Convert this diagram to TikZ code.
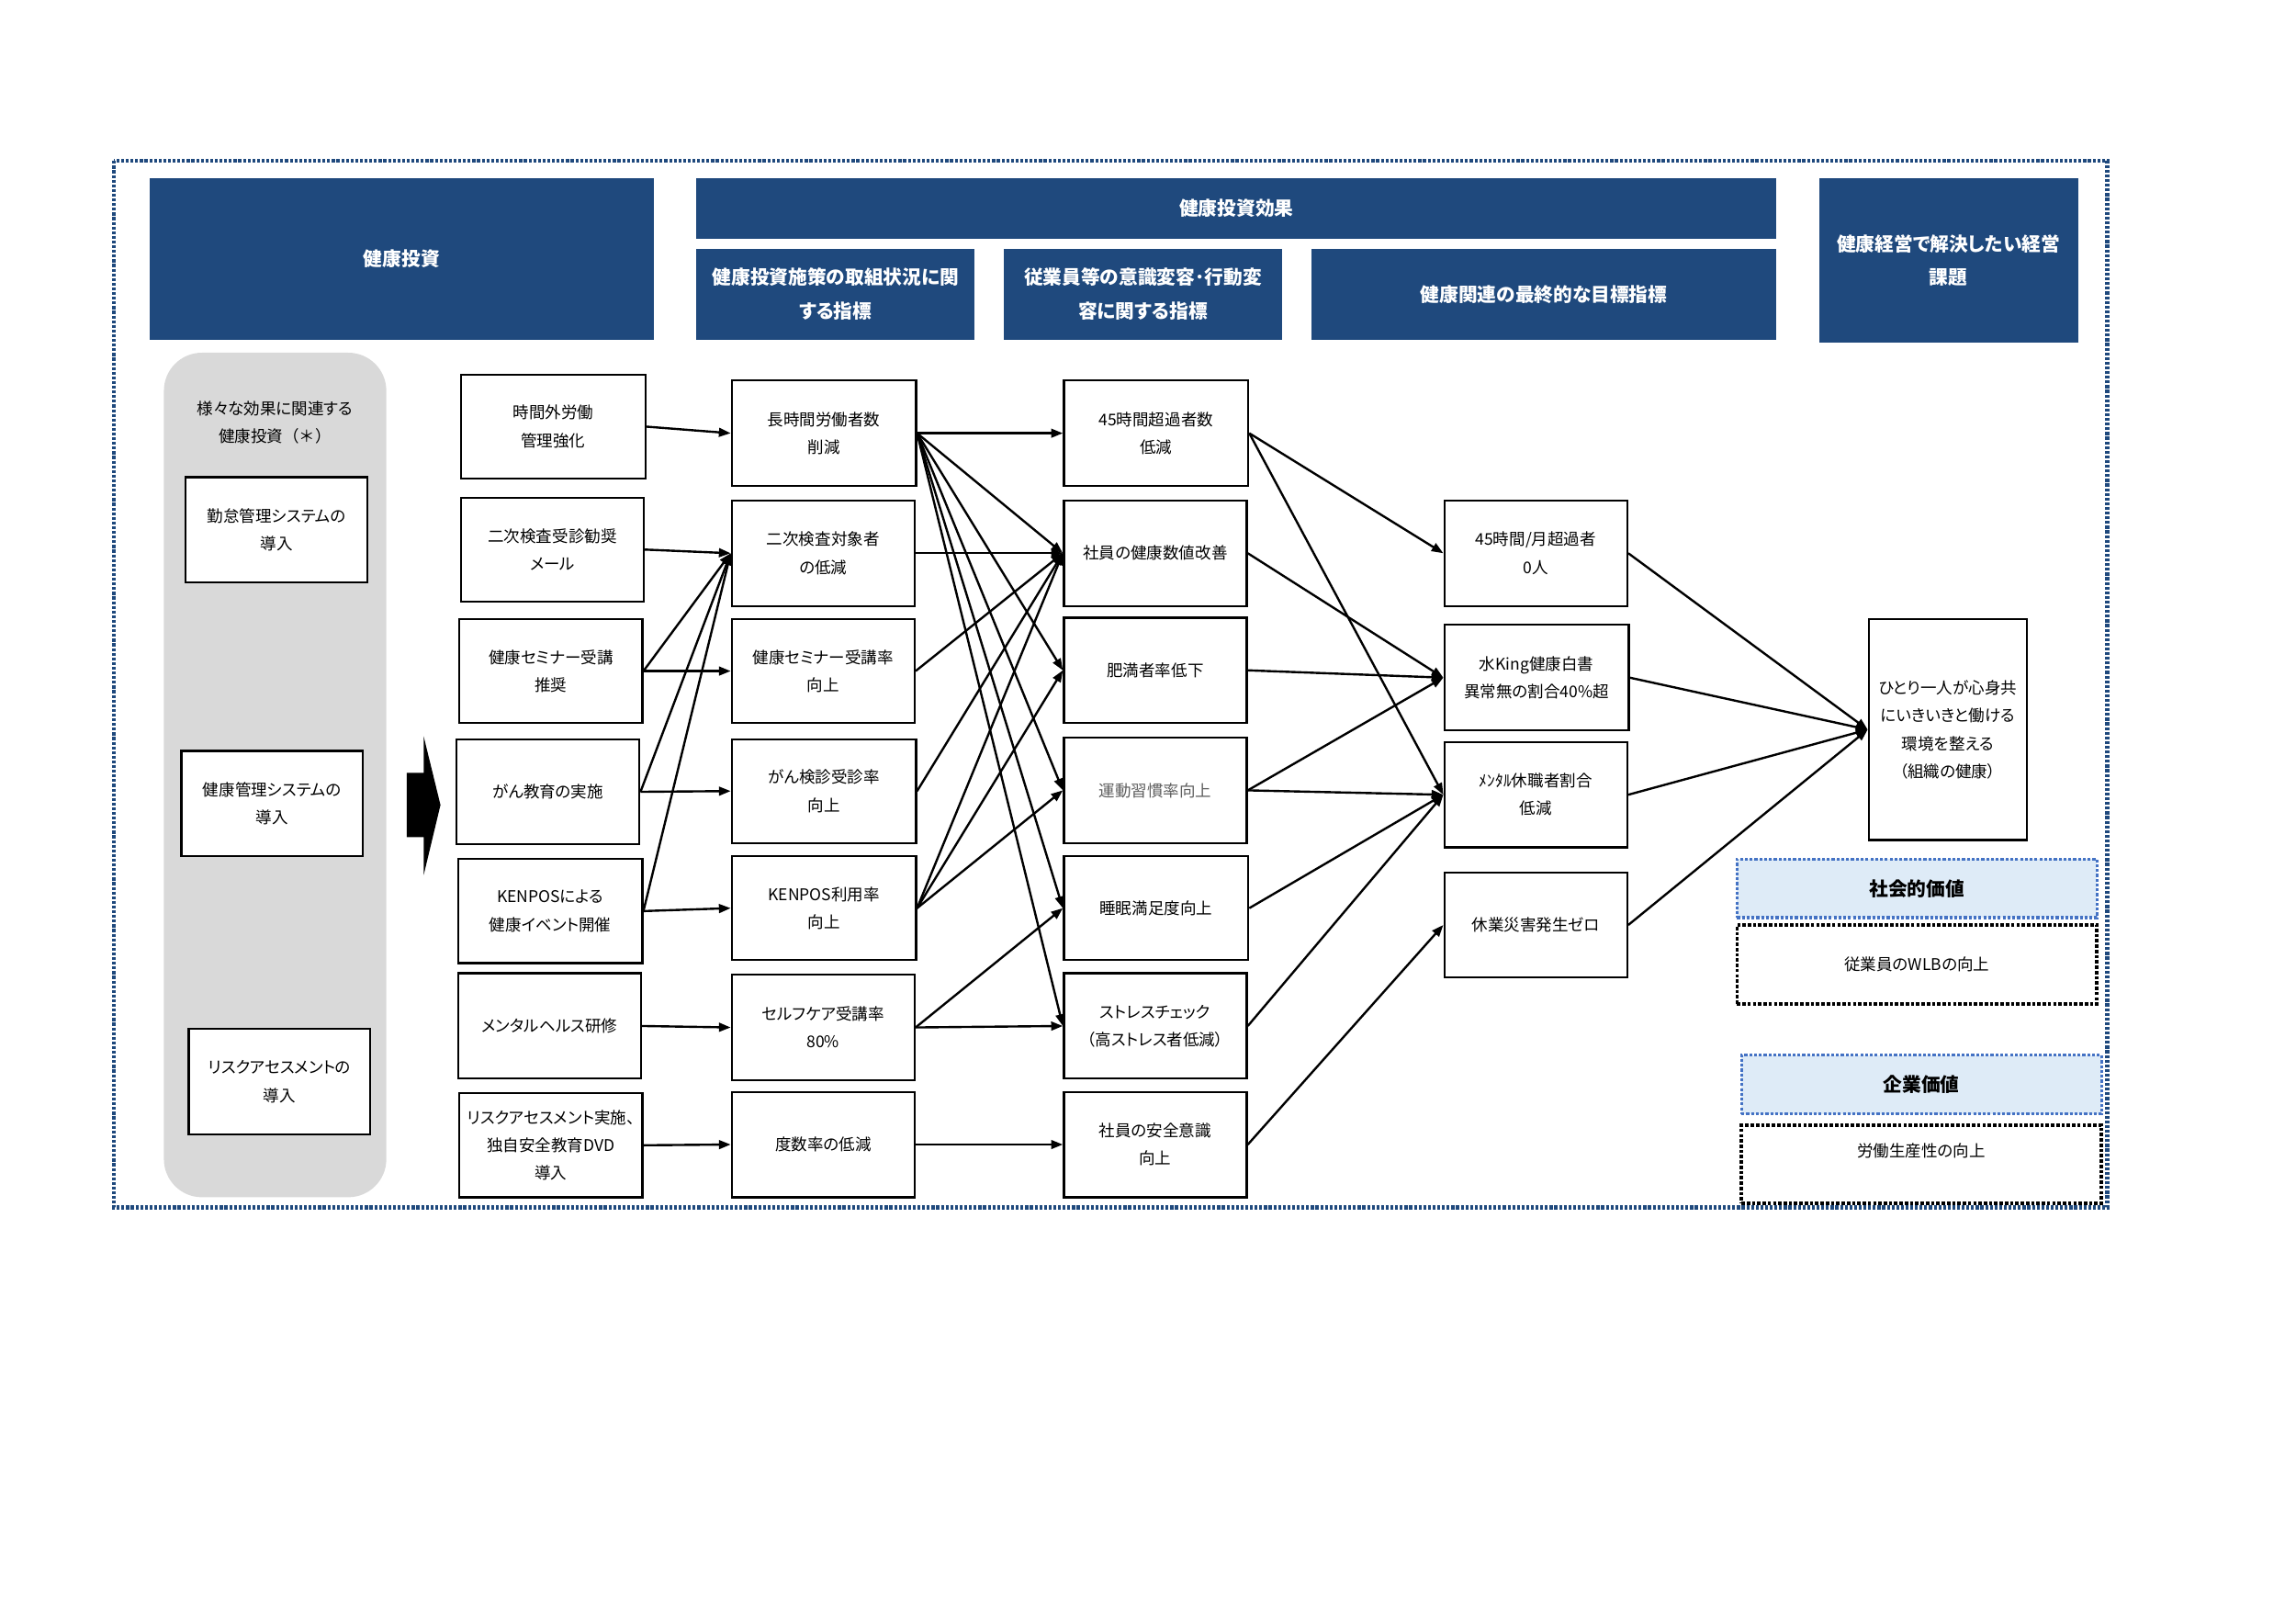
\documentclass[tikz,border=0pt]{standalone}
\usepackage{fontspec}
\setmainfont[RawFeature=+palt]{Noto Sans CJK JP}
\usetikzlibrary{arrows.meta}
\definecolor{navy}{RGB}{31,73,125}
\definecolor{panelgray}{RGB}{217,217,217}
\definecolor{dotblue}{RGB}{68,114,196}
\definecolor{lightblue}{RGB}{222,235,247}
\definecolor{txtgray}{RGB}{95,95,95}
\tikzset{
  bx/.style={draw=black, line width=1.4pt, fill=white, align=center, inner sep=0pt,
             font=\fontsize{11}{19}\selectfont},
  hd/.style={fill=navy, text=white, align=center, inner sep=0pt,
             font=\fontsize{13}{23}\selectfont\bfseries},
  arr/.style={line width=1.5pt, -{Triangle[length=8pt,width=6pt]}},
  bluebox/.style={draw=dotblue, fill=lightblue, line width=2pt, dash pattern=on 2pt off 1.3pt,
             align=center, inner sep=0pt, font=\fontsize{13}{19}\selectfont\bfseries},
  blackbox/.style={draw=black, line width=2.3pt, dash pattern=on 2.3pt off 1.3pt,
             align=center, inner sep=0pt, font=\fontsize{11}{19}\selectfont},
}
\begin{document}
\begin{tikzpicture}[x=1pt,y=-1pt]
\useasboundingbox (0,0) rectangle (1569,1109.6);
\fill[white] (0,0) rectangle (1569,1109.6);

% outer dotted frame
\draw[navy, line width=2.6pt, dash pattern=on 2pt off 1.2pt] (78,110) rectangle (1440,825);

% headers
\node[hd, minimum width=345, minimum height=110] (h1) at (274.5,177) {健康投資};
\node[hd, minimum width=738, minimum height=41] (h2) at (845,142.5) {健康投資効果};
\node[hd, minimum width=190, minimum height=62] (h3) at (571,201) {健康投資施策の取組状況に関\\する指標};
\node[hd, minimum width=190, minimum height=62] (h4) at (781,201) {従業員等の意識変容･行動変\\容に関する指標};
\node[hd, minimum width=318, minimum height=62] (h5) at (1055,201) {健康関連の最終的な目標指標};
\node[hd, minimum width=177, minimum height=112] (h6) at (1331.5,178) {健康経営で解決したい経営\\課題};

% gray panel
\fill[panelgray, rounded corners=26pt] (112,241) rectangle (264,818);
\node[align=center, inner sep=0pt, font=\fontsize{11}{19}\selectfont] (gt) at (188,288.5) {様々な効果に関連する\\健康投資{\addfontfeatures{RawFeature=-palt}（＊）}};
\node[bx, minimum width=124, minimum height=72] (g1) at (189,362) {勤怠管理システムの\\導入};
\node[bx, minimum width=124, minimum height=72] (g2) at (186,549) {健康管理システムの\\導入};
\node[bx, minimum width=124, minimum height=72] (g3) at (191,739) {リスクアセスメントの\\導入};

% big arrow
\fill[black] (278,528) -- (289.5,528) -- (289.5,503) -- (301,550) -- (289.5,598) -- (289.5,572) -- (278,572) -- cycle;

% column 1
\node[bx, minimum width=126, minimum height=71] (a1) at (378,291.5) {時間外労働\\管理強化};
\node[bx, minimum width=125, minimum height=71] (a2) at (377.5,375.5) {二次検査受診勧奨\\メール};
\node[bx, minimum width=125, minimum height=71] (a3) at (376.5,458.5) {健康セミナー受講\\推奨};
\node[bx, minimum width=125, minimum height=72] (a4) at (374.5,541) {がん教育の実施};
\node[bx, minimum width=126, minimum height=71] (a5) at (376,622.5) {KENPOSによる\\健康イベント開催};
\node[bx, minimum width=125, minimum height=72] (a6) at (375.5,701) {メンタルヘルス研修};
\node[bx, minimum width=125, minimum height=71] (a7) at (376.5,782.5) {リスクアセスメント実施、\\独自安全教育DVD\\導入};

% column 2
\node[bx, minimum width=126, minimum height=72] (b1) at (563,296) {長時間労働者数\\削減};
\node[bx, minimum width=125, minimum height=72] (b2) at (562.5,378) {二次検査対象者\\の低減};
\node[bx, minimum width=125, minimum height=71] (b3) at (562.5,458.5) {健康セミナー受講率\\向上};
\node[bx, minimum width=126, minimum height=71] (b4) at (563,540.5) {がん検診受診率\\向上};
\node[bx, minimum width=126, minimum height=71] (b5) at (563,620.5) {KENPOS利用率\\向上};
\node[bx, minimum width=125, minimum height=72] (b6) at (562.5,702) {セルフケア受講率\\80\%};
\node[bx, minimum width=125, minimum height=72] (b7) at (562.5,782) {度数率の低減};

% column 3
\node[bx, minimum width=126, minimum height=72] (c1) at (790,296) {45時間超過者数\\低減};
\node[bx, minimum width=125, minimum height=72] (c2) at (789.5,378) {社員の健康数値改善};
\node[bx, minimum width=125, minimum height=72] (c3) at (789.5,458) {肥満者率低下};
\node[bx, minimum width=125, minimum height=72, text=txtgray] (c4) at (789.5,540) {運動習慣率向上};
\node[bx, minimum width=126, minimum height=71] (c5) at (790,620.5) {睡眠満足度向上};
\node[bx, minimum width=125, minimum height=72] (c6) at (789.5,701) {ストレスチェック\\（高ストレス者低減）};
\node[bx, minimum width=125, minimum height=72] (c7) at (789.5,782) {社員の安全意識\\向上};

% column 4
\node[bx, minimum width=125, minimum height=72] (d1) at (1049.5,378) {45時間/月超過者\\0人};
\node[bx, minimum width=126, minimum height=72] (d2) at (1050,463) {水King健康白書\\異常無の割合40\%超};
\node[bx, minimum width=125, minimum height=72] (d3) at (1049.5,543) {ﾒﾝﾀﾙ休職者割合\\低減};
\node[bx, minimum width=125, minimum height=72] (d4) at (1049.5,632) {休業災害発生ゼロ};

% column 5
\node[bx, minimum width=108, minimum height=151] (e) at (1331,498.5) {ひとり一人が心身共\\にいきいきと働ける\\環境を整える\\（組織の健康）};

% value boxes
\node[bluebox, minimum width=246, minimum height=40] (s1) at (1310,607) {社会的価値};
\node[blackbox, minimum width=246, minimum height=54] (s2) at (1310,659) {従業員のWLBの向上};
\node[bluebox, minimum width=246, minimum height=40] (k1) at (1313,741) {企業価値};
\node[blackbox, minimum width=246, minimum height=53] (k2) at (1313,795.5) {労働生産性の向上\\\mbox{}};

% arrows column 1 -> 2
\draw[arr] (a1.east) -- (b1.west);
\draw[arr] (a2.east) -- (b2.west);
\draw[arr] (a3.east) -- (b2.west);
\draw[arr] (a3.east) -- (b3.west);
\draw[arr] (a4.east) -- (b2.west);
\draw[arr] (a4.east) -- (b4.west);
\draw[arr] (a5.east) -- (b2.west);
\draw[arr] (a5.east) -- (b5.west);
\draw[arr] (a6.east) -- (b6.west);
\draw[arr] (a7.east) -- (b7.west);

% arrows column 2 -> 3
\draw[arr] (b1.east) -- (c1.west);
\draw[arr] (b1.east) -- (c2.west);
\draw[arr] (b1.east) -- (c3.west);
\draw[arr] (b1.east) -- (c4.west);
\draw[arr] (b1.east) -- (c5.west);
\draw[arr] (b1.east) -- (c6.west);
\draw[arr] (b2.east) -- (c2.west);
\draw[arr] (b3.east) -- (c2.west);
\draw[arr] (b4.east) -- (c2.west);
\draw[arr] (b5.east) -- (c2.west);
\draw[arr] (b5.east) -- (c3.west);
\draw[arr] (b5.east) -- (c4.west);
\draw[arr] (b6.east) -- (c5.west);
\draw[arr] (b6.east) -- (c6.west);
\draw[arr] (b7.east) -- (c7.west);

% arrows column 3 -> 4
\draw[arr] (c1.east) -- (d1.west);
\draw[arr] (c1.east) -- (d3.west);
\draw[arr] (c2.east) -- (d2.west);
\draw[arr] (c3.east) -- (d2.west);
\draw[arr] (c4.east) -- (d2.west);
\draw[arr] (c4.east) -- (d3.west);
\draw[arr] (c5.east) -- (d3.west);
\draw[arr] (c6.east) -- (d3.west);
\draw[arr] (c7.east) -- (d4.west);

% arrows column 4 -> 5
\draw[arr] (d1.east) -- (e.west);
\draw[arr] (d2.east) -- (e.west);
\draw[arr] (d3.east) -- (e.west);
\draw[arr] (d4.east) -- (e.west);
\end{tikzpicture}
\end{document}
